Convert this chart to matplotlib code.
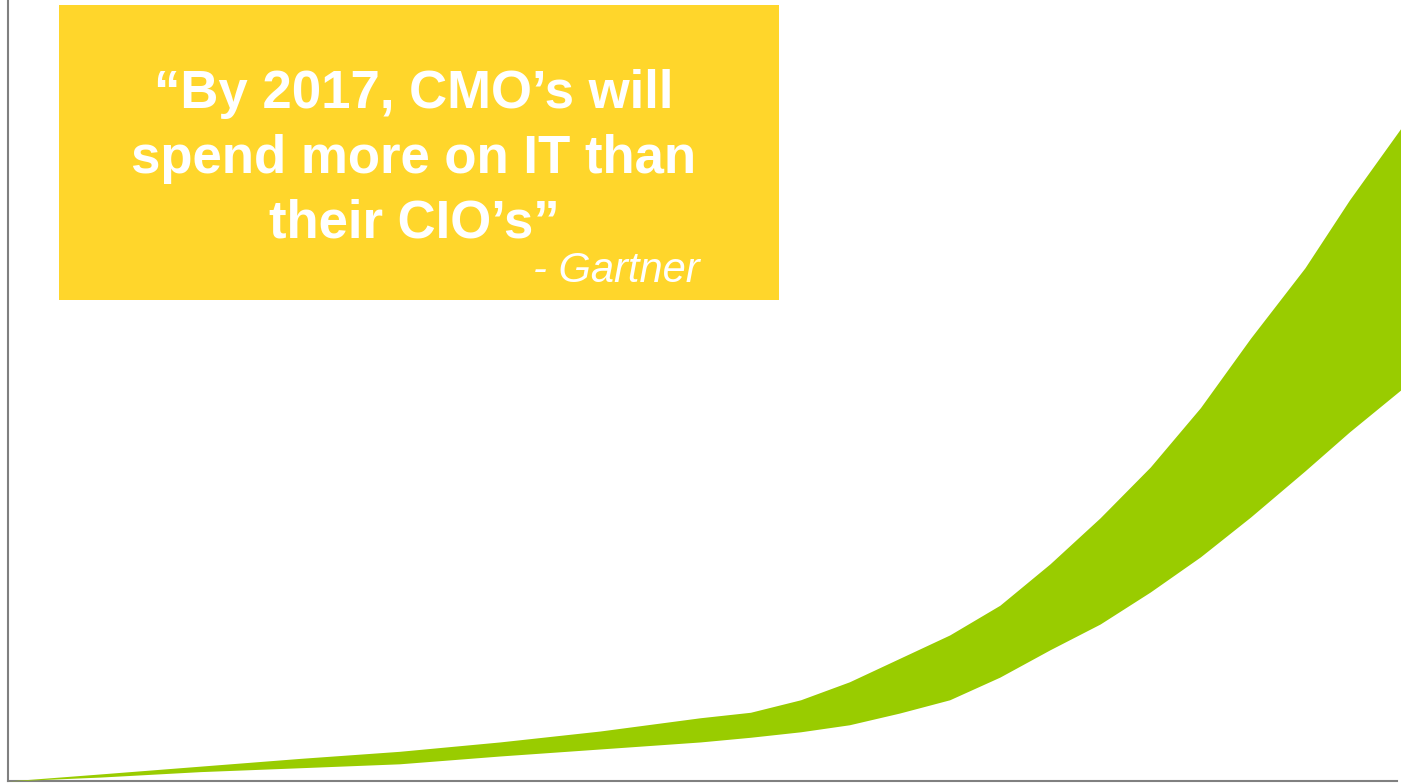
import numpy as np
import matplotlib
matplotlib.use('Agg')
import matplotlib.pyplot as plt
from matplotlib.patches import Rectangle

# Dữ liệu (đơn vị tùy ý, 0-100)
x_vals = [0, 6.6, 13.8, 21.0, 28.1, 35.3, 42.5, 49.7, 53.3, 56.9, 60.4, 64.0,
          67.6, 71.2, 74.8, 78.4, 82.0, 85.6, 89.2, 93.1, 96.3, 100]
upper_vals = [0, 0.9, 1.9, 2.9, 3.8, 5.0, 6.4, 8.1, 8.8, 10.4, 12.7, 15.7,
              18.7, 22.5, 27.8, 33.7, 40.2, 47.8, 56.7, 65.7, 74.4, 83.6]
lower_vals = [0, 0.5, 1.2, 1.7, 2.2, 3.2, 4.1, 5.0, 5.6, 6.3, 7.2, 8.7,
              10.4, 13.3, 16.8, 20.1, 24.2, 28.7, 33.8, 39.7, 44.7, 50.1]

quote_lines = ['\u201cBy 2017, CMO\u2019s will', 'spend more on IT than', 'their CIO\u2019s\u201d']
source = '- Gartner'

W, H = 1401, 783
fig = plt.figure(figsize=(W / 100, H / 100), dpi=100)
ax = fig.add_axes([8 / W, 2 / H, 1393 / W, 781 / H])

ax.fill_between(x_vals, lower_vals, upper_vals, color='#99CC00', lw=0, zorder=3)

ax.set_xlim(0, 100)
ax.set_ylim(0, 100)
ax.set_xticks([])
ax.set_yticks([])
for s in ['top', 'right']:
    ax.spines[s].set_visible(False)
for s in ['left', 'bottom']:
    ax.spines[s].set_color('#808080')
    ax.spines[s].set_linewidth(1.5)
ax.spines['bottom'].set_bounds(0, 99.7)

# Hộp trích dẫn màu vàng
fig.add_artist(Rectangle((59 / W, (H - 300) / H), 720 / W, 295 / H,
                         transform=fig.transFigure, facecolor='#FFD62B',
                         edgecolor='none', zorder=5))

baselines = [108, 173, 237]
for line, by in zip(quote_lines, baselines):
    fig.text(414 / W, (H - by) / H, line, ha='center', va='baseline',
             color='white', fontsize=38, fontweight='bold',
             family=['Liberation Sans', 'DejaVu Sans'], zorder=6)

fig.text(700 / W, (H - 282) / H, source, ha='right', va='baseline',
         color='white', fontsize=30, style='italic',
         family=['Liberation Sans', 'DejaVu Sans'], zorder=6)

fig.savefig('out.png', dpi=100, facecolor='white')
